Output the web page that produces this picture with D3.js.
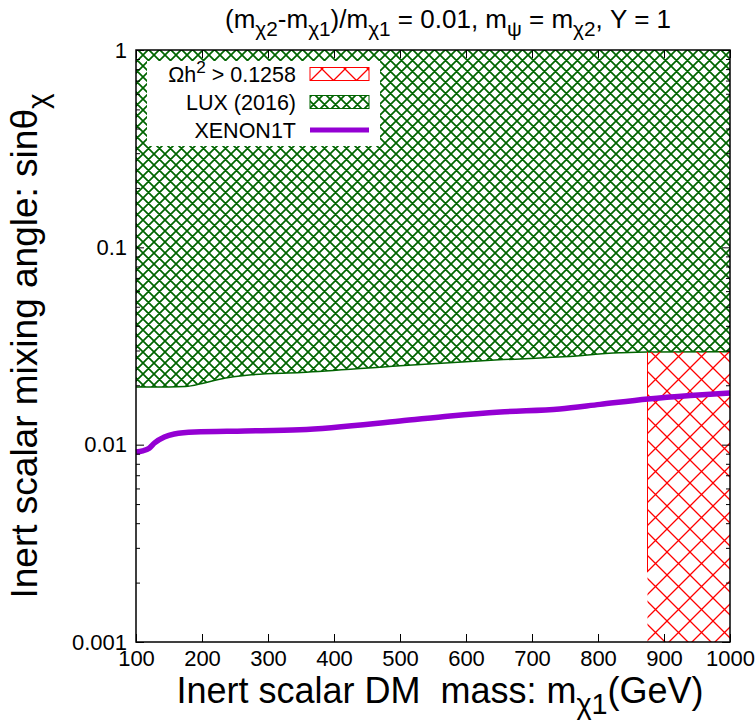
<!DOCTYPE html>
<html>
<head>
<meta charset="utf-8">
<script src="https://cdn.jsdelivr.net/npm/d3@7"></script>
<style>
  body { margin: 0; background: #ffffff; }
  svg text { font-family: "Liberation Sans", Arial, sans-serif; fill: #000000; white-space: pre; }
</style>
</head>
<body>
<div id="chart"></div>
<script>
// LUX (2016) lower edge of the excluded region
var lux_mass = [100, 150, 175, 200, 225, 275, 350, 500, 650, 740, 833, 875, 1000];
var lux_limit = [0.0196, 0.0196, 0.0197, 0.0204, 0.0214, 0.0226, 0.0232, 0.0251, 0.0269, 0.0278, 0.0292, 0.0295, 0.0296];

// XENON1T projected limit
var xenon_mass = [100, 110, 120, 128, 143, 158, 189, 265, 348, 500, 576, 652, 742, 803, 876, 940, 1000];
var xenon_limit = [0.00918, 0.0093, 0.0096, 0.0102, 0.01094, 0.01133, 0.0116, 0.01173, 0.0119, 0.01318, 0.01398, 0.01465, 0.01517, 0.016, 0.01705, 0.01775, 0.01828];

// Relic overabundance region (Omega h^2 > 0.1258)
var relic_mass = [875, 1000];
var relic_top = [0.0295, 0.0296];
var relic_edge_low = 0.00226;

// Axis ticks
var x_ticks = [100, 200, 300, 400, 500, 600, 700, 800, 900, 1000];
var y_ticks = [0.001, 0.01, 0.1, 1];
var y_tick_labels = ["0.001", "0.01", "0.1", "1"];

var width = 756,
  height = 721;
var margin = { top: 50, right: 26, bottom: 79, left: 136 };

var green = "#006400",
  red = "#ff0000",
  violet = "#9400d3";

var tick_font = 22;

var svg = d3
  .select("#chart")
  .append("svg")
  .attr("width", width)
  .attr("height", height)
  .attr("viewBox", [0, 0, width, height]);

var x = d3
  .scaleLinear()
  .domain([100, 1000])
  .range([margin.left, width - margin.right]);

var y = d3
  .scaleLog()
  .domain([0.001, 1])
  .range([height - margin.bottom, margin.top]);

// write text with sub / superscripts given as [string, kind] parts
function rich_text(sel, parts, size) {
  var shift = 0;
  parts.forEach(function (p) {
    var target = p[1] === "sub" ? size * 0.3 : p[1] === "sup" ? -size * 0.4 : 0;
    var t = sel.append("tspan").text(p[0]).attr("dy", target - shift);
    if (p[1]) t.attr("font-size", size * 0.8);
    shift = target;
  });
  return sel;
}

// Hatch patterns
var defs = svg.append("defs");

function hatch(id, size, color, stroke_width) {
  var s = size;
  defs
    .append("pattern")
    .attr("id", id)
    .attr("patternUnits", "userSpaceOnUse")
    .attr("width", s)
    .attr("height", s)
    .append("path")
    .attr(
      "d",
      "M-1,-1L" + (s + 1) + "," + (s + 1) +
        "M" + (s - 1) + ",-1L" + (s + 1) + ",1" +
        "M-1," + (s - 1) + "L1," + (s + 1) +
        "M-1,1L1,-1" +
        "M-1," + (s + 1) + "L" + (s + 1) + ",-1" +
        "M" + (s - 1) + "," + (s + 1) + "L" + (s + 1) + "," + (s - 1)
    )
    .attr("stroke", color)
    .attr("stroke-width", stroke_width)
    .attr("fill", "none");
}

hatch("lux-hatch", 11, green, 1.7);
hatch("relic-hatch", 23, red, 1.3);

var lux_data = lux_mass.map((d, i) => ({ m: d, v: lux_limit[i] }));
var xenon_data = xenon_mass.map((d, i) => ({ m: d, v: xenon_limit[i] }));
var relic_data = relic_mass.map((d, i) => ({ m: d, v: relic_top[i] }));

// LUX excluded area
svg
  .append("path")
  .datum(lux_data)
  .attr("fill", "url(#lux-hatch)")
  .attr(
    "d",
    d3
      .area()
      .x((d) => x(d.m))
      .y0(y(1))
      .y1((d) => y(d.v))
      .curve(d3.curveMonotoneX)
  );

svg
  .append("path")
  .datum(lux_data)
  .attr("fill", "none")
  .attr("stroke", green)
  .attr("stroke-width", 1.5)
  .attr(
    "d",
    d3
      .line()
      .x((d) => x(d.m))
      .y((d) => y(d.v))
      .curve(d3.curveMonotoneX)
  );

// Relic density area
svg
  .append("path")
  .datum(relic_data)
  .attr("fill", "url(#relic-hatch)")
  .attr(
    "d",
    d3
      .area()
      .x((d) => x(d.m))
      .y0(y(0.001))
      .y1((d) => y(d.v))
  );

svg
  .append("line")
  .attr("x1", x(relic_mass[0]))
  .attr("x2", x(relic_mass[0]))
  .attr("y1", y(relic_top[0]))
  .attr("y2", y(relic_edge_low))
  .attr("stroke", red)
  .attr("stroke-width", 1);

// XENON1T curve
svg
  .append("path")
  .datum(xenon_data)
  .attr("fill", "none")
  .attr("stroke", violet)
  .attr("stroke-width", 5.5)
  .attr(
    "d",
    d3
      .line()
      .x((d) => x(d.m))
      .y((d) => y(d.v))
      .curve(d3.curveMonotoneX)
  );

// Axes (ticks point inwards, mirrored on top and right)
var y_minor = y.ticks().filter((d) => y_ticks.indexOf(d) < 0);

function style_axis(g) {
  g.attr("font-family", null).attr("font-size", tick_font);
  g.select(".domain").remove();
  g.selectAll(".tick line").attr("stroke", "#000").attr("stroke-width", 1);
  g.selectAll(".tick text").attr("fill", "#000");
}

// mirrored axes without labels
function bare_axis(g) {
  style_axis(g);
  g.selectAll(".tick text").remove();
}

svg
  .append("g")
  .attr("transform", "translate(0," + y(0.001) + ")")
  .call(d3.axisBottom(x).tickValues(x_ticks).tickFormat(d3.format("d")).tickSize(-8).tickPadding(8))
  .call(style_axis);

svg
  .append("g")
  .attr("transform", "translate(0," + y(1) + ")")
  .call(d3.axisTop(x).tickValues(x_ticks).tickSize(-8))
  .call(bare_axis);

svg
  .append("g")
  .attr("transform", "translate(" + x(100) + ",0)")
  .call(
    d3
      .axisLeft(y)
      .tickValues(y_ticks)
      .tickFormat((d, i) => y_tick_labels[i])
      .tickSize(-8)
      .tickPadding(9)
  )
  .call(style_axis);

svg
  .append("g")
  .attr("transform", "translate(" + x(100) + ",0)")
  .call(d3.axisLeft(y).tickValues(y_minor).tickSize(-4))
  .call(bare_axis);

svg
  .append("g")
  .attr("transform", "translate(" + x(1000) + ",0)")
  .call(d3.axisRight(y).tickValues(y_ticks).tickSize(-8))
  .call(bare_axis);

svg
  .append("g")
  .attr("transform", "translate(" + x(1000) + ",0)")
  .call(d3.axisRight(y).tickValues(y_minor).tickSize(-4))
  .call(bare_axis);

// Frame
svg
  .append("rect")
  .attr("x", x(100))
  .attr("y", y(1))
  .attr("width", x(1000) - x(100))
  .attr("height", y(0.001) - y(1))
  .attr("fill", "none")
  .attr("stroke", "#000")
  .attr("stroke-width", 1.5);

// Legend
var legend = svg.append("g").attr("class", "legend");

legend
  .append("rect")
  .attr("x", 147)
  .attr("y", 61)
  .attr("width", 233)
  .attr("height", 85)
  .attr("fill", "#ffffff");

var legend_items = [
  { parts: [["Ωh"], ["2", "sup"], [" > 0.1258"]], fill: "url(#relic-hatch)", color: red, kind: "box" },
  { parts: [["LUX (2016)"]], fill: "url(#lux-hatch)", color: green, kind: "box" },
  { parts: [["XENON1T"]], fill: null, color: violet, kind: "line" },
];

legend_items.forEach(function (d, i) {
  var cy = 74 + i * 28;
  rich_text(
    legend
      .append("text")
      .attr("x", 296)
      .attr("y", cy + 8)
      .attr("text-anchor", "end")
      .attr("font-size", 21.5),
    d.parts,
    21.5
  );
  if (d.kind === "box") {
    legend
      .append("rect")
      .attr("x", 310)
      .attr("y", cy - 6.5)
      .attr("width", 59)
      .attr("height", 13)
      .attr("fill", d.fill)
      .attr("stroke", d.color)
      .attr("stroke-width", 1);
  } else {
    legend
      .append("line")
      .attr("x1", 310)
      .attr("x2", 369)
      .attr("y1", cy)
      .attr("y2", cy)
      .attr("stroke", d.color)
      .attr("stroke-width", 5);
  }
});

// Title
rich_text(
  svg
    .append("text")
    .attr("x", 448)
    .attr("y", 28)
    .attr("text-anchor", "middle")
    .attr("font-size", 26),
  [["(m"], ["χ2", "sub"], ["-m"], ["χ1", "sub"], [")/m"], ["χ1", "sub"], [" = 0.01, m"], ["ψ", "sub"], [" = m"], ["χ2", "sub"], [", Y = 1"]],
  26
);

// Axis titles
rich_text(
  svg
    .append("text")
    .attr("x", 440)
    .attr("y", 703)
    .attr("text-anchor", "middle")
    .attr("font-size", 36),
  [["Inert scalar DM  mass: m"], ["χ1", "sub"], ["(GeV)"]],
  36
);

rich_text(
  svg
    .append("text")
    .attr("transform", "translate(37," + (y(1) + y(0.001)) / 2 + ") rotate(-90)")
    .attr("text-anchor", "middle")
    .attr("font-size", 37),
  [["Inert scalar mixing angle: sinθ"], ["χ", "sub"]],
  37
);
</script>
</body>
</html>
